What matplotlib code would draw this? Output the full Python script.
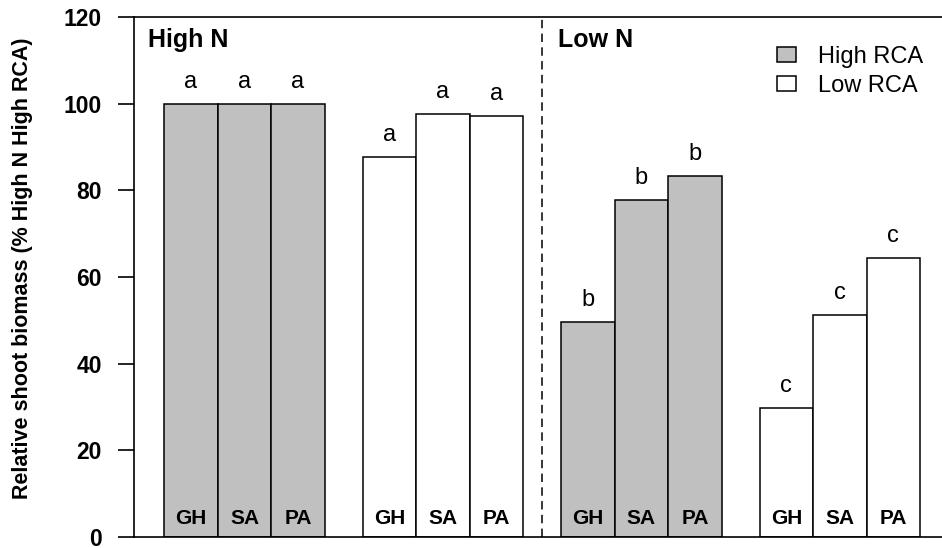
import matplotlib
matplotlib.use('Agg')
import matplotlib.pyplot as plt
import matplotlib.patches as mpatches

plt.rcParams['font.family'] = ['Liberation Sans', 'DejaVu Sans']

# Relative shoot biomass, % of High N / High RCA
genotypes = ['GH', 'SA', 'PA']
high_n_high_rca = [100.0, 100.0, 100.0]
high_n_low_rca = [87.8, 97.7, 97.2]
low_n_high_rca = [49.6, 77.8, 83.4]
low_n_low_rca = [29.8, 51.2, 64.5]

high_n_high_letters = ['a', 'a', 'a']
high_n_low_letters = ['a', 'a', 'a']
low_n_high_letters = ['b', 'b', 'b']
low_n_low_letters = ['c', 'c', 'c']

groups = [
    (high_n_high_rca, high_n_high_letters, '#c0c0c0'),
    (high_n_low_rca, high_n_low_letters, 'white'),
    (low_n_high_rca, low_n_high_letters, '#c0c0c0'),
    (low_n_low_rca, low_n_low_letters, 'white'),
]

fig = plt.figure(figsize=(9.42, 5.48), dpi=100)
ax = fig.add_axes([0.1426, 0.0205, 0.8574, 0.9481])

first_start = 0.56
group_step = 3.71
width = 1.0

for g, (vals, letters, color) in enumerate(groups):
    start = first_start + g * group_step
    centers = [start + 0.5 + j for j in range(len(vals))]
    ax.bar(centers, vals, width=width, color=color, edgecolor='black',
           linewidth=1.1, zorder=2)
    for x, v, lab, gen in zip(centers, vals, letters, genotypes):
        ax.annotate(lab, (x, v), xytext=(0, 11.5), textcoords='offset points',
                    ha='center', va='baseline', fontsize=17)
        ax.annotate(gen, (x, 0), xytext=(0, 9.5), textcoords='offset points',
                    ha='center', va='baseline', fontsize=15, fontweight='bold')

# dashed divider between nitrogen treatments
mid = (first_start + group_step + 3 + first_start + 2 * group_step) / 2
ax.axvline(mid, color='black', linewidth=1.1, linestyle=(0, (5.5, 3.5)), zorder=1)

ax.set_xlim(0, 15.1)
ax.set_ylim(0, 120)
ax.set_yticks(range(0, 121, 20))
ax.set_xticks([])
ax.tick_params(axis='y', direction='out', length=11.5, width=1.2, pad=12,
               labelsize=16.5)
for t in ax.get_yticklabels():
    t.set_fontweight('bold')

for side in ['left', 'top', 'bottom']:
    ax.spines[side].set_linewidth(1.2)
ax.spines['right'].set_visible(False)

ax.set_ylabel('Relative shoot biomass (% High N High RCA)', fontsize=15.5,
              fontweight='bold')
ax.yaxis.set_label_coords(-0.125, 0.516)

ax.text(0.0173, 0.9418, 'High N', transform=ax.transAxes, fontsize=18,
        fontweight='bold', va='baseline', ha='left')
ax.text(0.5246, 0.9418, 'Low N', transform=ax.transAxes, fontsize=18,
        fontweight='bold', va='baseline', ha='left')

legend_handles = [
    mpatches.Patch(facecolor='#c0c0c0', edgecolor='black', linewidth=1.1, label='High RCA'),
    mpatches.Patch(facecolor='white', edgecolor='black', linewidth=1.1, label='Low RCA'),
]
ax.legend(handles=legend_handles, loc='upper left', frameon=False,
          bbox_to_anchor=(777 / 942, 1 - 46 / 548), bbox_transform=fig.transFigure,
          fontsize=17, handlelength=0.8, handleheight=0.6, handletextpad=0.93,
          labelspacing=0.31, borderpad=0, borderaxespad=0)

fig.savefig('out.png', dpi=100)
